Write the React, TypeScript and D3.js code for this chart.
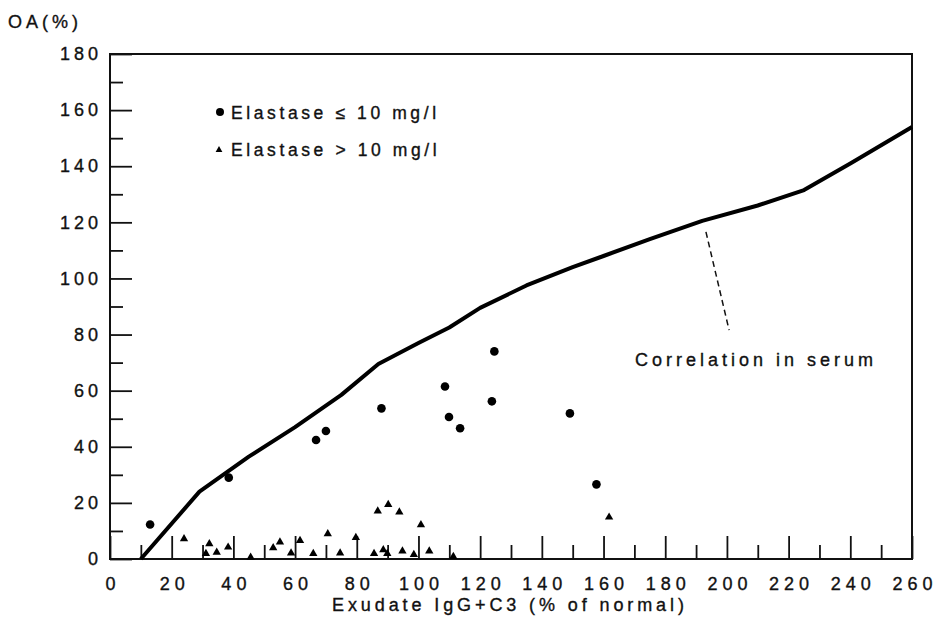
import React, { Component } from 'react';
import * as d3 from 'd3';

// tick labels
const xTickValues = [0, 20, 40, 60, 80, 100, 120, 140, 160, 180, 200, 220, 240, 260];
const xMinorValues = [10, 30, 50, 70, 90, 110, 130, 150, 170, 190, 210, 230, 250];
const yTickValues = [0, 20, 40, 60, 80, 100, 120, 140, 160, 180];
const yMinorValues = [10, 30, 50, 70, 90, 110, 130, 150, 170];

// Elastase <= 10 mg/l (dots)
const lowX = [13, 38.5, 66.8, 70, 88, 108.6, 109.9, 113.5, 123.8, 124.6, 149.1, 157.7];
const lowY = [12.3, 29, 42.4, 45.6, 53.7, 61.5, 50.6, 46.6, 56.2, 74.0, 51.9, 26.6];

// Elastase > 10 mg/l (triangles)
const highX = [24, 32.2, 31.1, 34.6, 38.3, 45.6, 52.9, 55.1, 58.7, 61.6, 65.9, 70.6, 74.6,
  79.7, 85.6, 86.8, 88.6, 89.9, 90.2, 93.8, 94.8, 98.5, 100.8, 103.5, 111.3, 161.8];
const highY = [7.2, 5.4, 1.9, 2.4, 4.2, 0.6, 4.0, 6.0, 2.1, 6.6, 1.9, 9.0, 2.1,
  7.6, 1.9, 17.1, 3.3, 1.9, 19.4, 16.7, 2.8, 1.6, 12.2, 2.8, 0.9, 14.9];

// correlation in serum
const serumX = [10, 29, 45, 60, 75, 87, 100, 110, 120, 135, 150, 160, 175, 192, 210, 225, 240, 260];
const serumY = [0, 24, 36.5, 47, 58.5, 69.5, 77, 82.5, 89.5, 97.5, 104, 108, 114, 120.5, 126, 131.5, 141, 154];

// leader line for the label
const leaderX = [193.2, 200.7];
const leaderY = [116.6, 81.6];

const font = '"Liberation Sans", Arial, sans-serif';

class App extends Component {
  svgRef = React.createRef<SVGSVGElement>();

  componentDidMount() {
    const svg = d3.select(this.svgRef.current);
    svg.selectAll('*').remove();

    const x = d3.scaleLinear().domain([0, 260]).range([110, 912]);
    const y = d3.scaleLinear().domain([0, 180]).range([559, 54]);

    // x axis, ticks pointing up
    const xMajor = svg.append('g')
      .attr('transform', 'translate(0,' + y(0) + ')')
      .call(d3.axisBottom(x).tickValues(xTickValues).tickSize(-23).tickPadding(18).tickFormat(d3.format('d')));
    const xMinor = svg.append('g')
      .attr('transform', 'translate(0,' + y(0) + ')')
      .call(d3.axisBottom(x).tickValues(xMinorValues).tickSize(-14).tickFormat(() => ''));

    // y axis, ticks pointing right
    const yMajor = svg.append('g')
      .attr('transform', 'translate(' + x(0) + ',0)')
      .call(d3.axisLeft(y).tickValues(yTickValues).tickSize(-22).tickPadding(8).tickFormat(d3.format('d')));
    const yMinor = svg.append('g')
      .attr('transform', 'translate(' + x(0) + ',0)')
      .call(d3.axisLeft(y).tickValues(yMinorValues).tickSize(-13).tickFormat(() => ''));

    [xMajor, xMinor, yMajor, yMinor].forEach(g => {
      g.select('.domain').remove();
      g.selectAll('.tick line').attr('stroke', '#111').attr('stroke-width', 1.8);
    });
    xMajor.selectAll('.tick text')
      .attr('font-family', font).attr('font-size', 18).attr('letter-spacing', 5)
      .attr('dx', 2.5).attr('fill', '#111').attr('stroke', '#111').attr('stroke-width', 0.35);
    yMajor.selectAll('.tick text')
      .attr('font-family', font).attr('font-size', 18).attr('letter-spacing', 4)
      .attr('fill', '#111').attr('stroke', '#111').attr('stroke-width', 0.35);

    // frame
    svg.append('rect')
      .attr('x', x(0)).attr('y', y(180))
      .attr('width', x(260) - x(0)).attr('height', y(0) - y(180))
      .attr('fill', 'none').attr('stroke', '#111').attr('stroke-width', 2);

    // serum correlation line
    const line = d3.line<number>()
      .x(i => x(serumX[i]))
      .y(i => y(serumY[i]));
    svg.append('path')
      .attr('d', line(d3.range(serumX.length)))
      .attr('fill', 'none').attr('stroke', '#000')
      .attr('stroke-width', 4).attr('stroke-linejoin', 'round');

    // leader
    svg.append('line')
      .attr('x1', x(leaderX[0])).attr('y1', y(leaderY[0]))
      .attr('x2', x(leaderX[1])).attr('y2', y(leaderY[1]))
      .attr('stroke', '#111').attr('stroke-width', 1.5).attr('stroke-dasharray', '6,4');

    const textStyle = (t: any, size: number, ls: number) => t
      .attr('font-family', font).attr('font-size', size).attr('letter-spacing', ls)
      .attr('fill', '#111').attr('stroke', '#111').attr('stroke-width', 0.35);

    svg.append('text')
      .attr('x', x(170.2)).attr('y', y(68.8))
      .call(textStyle, 18, 4)
      .text('Correlation in serum');

    // dots
    svg.append('g').selectAll('circle')
      .data(lowX)
      .join('circle')
      .attr('cx', d => x(d))
      .attr('cy', (d, i) => y(lowY[i]))
      .attr('r', 4.3)
      .attr('fill', '#000');

    // triangles
    const tri = d3.symbol().type(d3.symbolTriangle).size(30);
    svg.append('g').selectAll('path')
      .data(highX)
      .join('path')
      .attr('d', tri)
      .attr('transform', (d, i) => 'translate(' + x(d) + ',' + y(highY[i]) + ')')
      .attr('fill', '#000');

    // legend
    const legend = svg.append('g');
    legend.append('circle').attr('cx', 220).attr('cy', 112).attr('r', 4).attr('fill', '#000');
    legend.append('text')
      .attr('x', 231).attr('y', 119)
      .call(textStyle, 17.5, 3.6)
      .text('Elastase ≤ 10 mg/l');
    legend.append('path')
      .attr('d', d3.symbol().type(d3.symbolTriangle).size(20)())
      .attr('transform', 'translate(219,150)')
      .attr('fill', '#000');
    legend.append('text')
      .attr('x', 231).attr('y', 156)
      .call(textStyle, 17.5, 3.6)
      .text('Elastase > 10 mg/l');

    // axis titles
    svg.append('text')
      .attr('x', 8).attr('y', 28)
      .call(textStyle, 18, 4)
      .text('OA(%)');
    svg.append('text')
      .attr('x', 332).attr('y', 611)
      .call(textStyle, 18, 3.9)
      .text('Exudate IgG+C3 (% of normal)');
  }

  render() {
    return (
      <svg
        ref={this.svgRef}
        width={937}
        height={624}
        style={{ position: 'absolute', left: 0, top: 0, background: '#fff' }}
      />
    );
  }
}

export default App;
